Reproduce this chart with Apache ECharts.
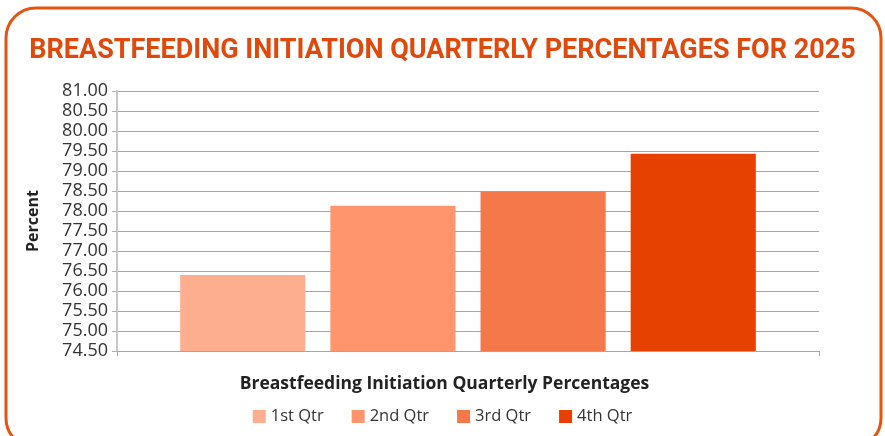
<!DOCTYPE html>
<html><head><meta charset="utf-8">
<script src="https://cdn.jsdelivr.net/npm/echarts@6/dist/echarts.min.js"></script>
<style>html,body{margin:0;padding:0;background:#fff}#c{width:885px;height:436px}</style>
</head><body><div id="c"></div>
<script>
const categories = ['Breastfeeding Initiation Quarterly Percentages'];
const seriesNames = ['1st Qtr', '2nd Qtr', '3rd Qtr', '4th Qtr'];
const seriesValues = [76.40, 78.13, 78.49, 79.43];
const seriesColors = ['#fdae8f', '#fe956c', '#f5784a', '#e64100'];
const yMin = 74.5, yMax = 81, yStep = 0.5;

const chart = echarts.init(document.getElementById('c'), null, {renderer: 'canvas'});
const font = '"Open Sans", Lato, sans-serif';
chart.setOption({
  animation: false,
  title: {
    text: 'BREASTFEEDING INITIATION QUARTERLY PERCENTAGES FOR 2025',
    left: 'center', top: 33,
    textStyle: {fontFamily: '"Liberation Sans Narrow", "Roboto", sans-serif', fontWeight: 'bold', fontSize: 27, color: '#e0480c'}
  },
  graphic: [{
    type: 'rect', shape: {x: 6, y: 8, width: 875, height: 440, r: 30},
    style: {fill: 'none', stroke: '#e65410', lineWidth: 3}, z: 100
  }],
  legend: {
    bottom: 6, left: 'center', itemWidth: 13, itemHeight: 13, itemGap: 28,
    icon: 'rect',
    textStyle: {fontFamily: font, fontSize: 16.5, color: '#333'},
    data: seriesNames
  },
  grid: {left: 117, right: 66, top: 91, bottom: 85},
  xAxis: {
    type: 'category', data: categories,
    name: categories[0], nameLocation: 'middle', nameGap: 24,
    nameTextStyle: {fontFamily: font, fontWeight: 'bold', fontSize: 17.5, color: '#222', padding: [0, 47, 0, 0]},
    axisLabel: {show: false},
    axisTick: {show: true, length: 5, lineStyle: {color: '#a6a6a6'}},
    axisLine: {lineStyle: {color: '#a6a6a6'}}
  },
  yAxis: {
    type: 'value', min: yMin, max: yMax, interval: yStep,
    name: 'Percent', nameLocation: 'middle', nameGap: 76,
    nameTextStyle: {fontFamily: font, fontWeight: 'bold', fontSize: 16, color: '#222'},
    axisLabel: {formatter: v => v.toFixed(2), fontFamily: font, fontSize: 18, color: '#333', margin: 9},
    axisLine: {show: true, lineStyle: {color: '#c8c8c8', width: 2}},
    axisTick: {show: true, length: 5, lineStyle: {color: '#b0b0b0'}},
    splitLine: {lineStyle: {color: '#a6a6a6', width: 1}}
  },
  series: seriesNames.map((n, i) => ({
    name: n, type: 'bar', data: [seriesValues[i]],
    itemStyle: {color: seriesColors[i]},
    barGap: '20%', barCategoryGap: '18%'
  }))
});
</script></body></html>
